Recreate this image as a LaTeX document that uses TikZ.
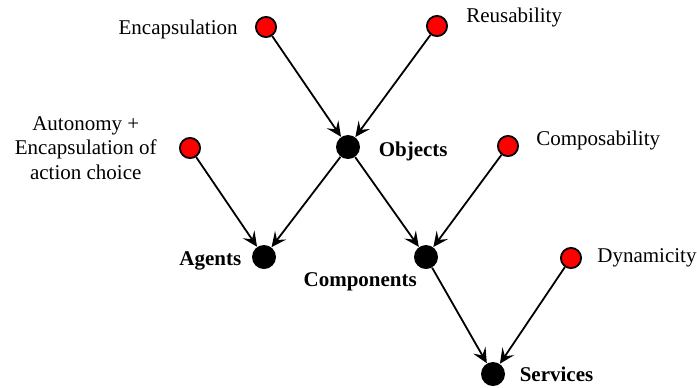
\documentclass[tikz,border=0pt]{standalone}
\usepackage{fontspec}
\setmainfont{Liberation Serif}
\usetikzlibrary{arrows.meta,positioning}

\begin{document}
\begin{tikzpicture}[x=0.5pt,y=-0.5pt,
    >={Stealth[length=7.5pt,width=7pt,inset=3pt]},
    every node/.style={font=\fontsize{10.5}{12.25}\selectfont},
    prop/.style={circle,draw=black,fill=red,line width=0.9pt,minimum size=10.1pt,inner sep=0pt},
    concept/.style={circle,fill=black,minimum size=12pt,inner sep=0pt},
    lbl/.style={inner sep=0pt,align=center},
    bold/.style={lbl,font=\fontsize{10.5}{12.25}\selectfont\bfseries},
    edge/.style={->,line width=0.9pt}]
  \useasboundingbox (0,0) rectangle (697,387);

  % properties (red) and paradigms (black)
  \node[prop] (enc) at (266,27) {};
  \node[prop] (reu) at (437,26) {};
  \node[prop] (aut) at (190,148) {};
  \node[prop] (cps) at (508,146) {};
  \node[prop] (dyn) at (571,258) {};
  \node[concept] (obj) at (348,147) {};
  \node[concept] (agt) at (264,257) {};
  \node[concept] (cmp) at (426,257) {};
  \node[concept] (srv) at (493,374) {};

  % labels
  \node[lbl,left=8.5pt of enc,yshift=-1pt] (encL) {Encapsulation};
  \node[lbl,right=9pt of reu,yshift=4.5pt] (reuL) {Reusability};
  \node[lbl,left=11pt of aut] (autL) {Autonomy +\\Encapsulation of\\action choice};
  \node[lbl,right=8.5pt of cps,yshift=3pt] (cpsL) {Composability};
  \node[lbl,right=7.5pt of dyn] (dynL) {Dynamicity};
  \node[bold,right=9pt of obj,yshift=-2pt] (objL) {Objects};
  \node[bold,left=5pt of agt,yshift=-2pt] (agtL) {Agents};
  \node[bold,below left=3pt and 0pt of cmp] (cmpL) {Components};
  \node[bold,right=7pt of srv] (srvL) {Services};

  % arrows
  \draw[edge] (enc) -- (obj);
  \draw[edge] (reu) -- (obj);
  \draw[edge] (aut) -- (agt);
  \draw[edge] (obj) -- (agt);
  \draw[edge] (obj) -- (cmp);
  \draw[edge] (cps) -- (cmp);
  \draw[edge] (cmp) -- (srv);
  \draw[edge] (dyn) -- (srv);
\end{tikzpicture}
\end{document}
